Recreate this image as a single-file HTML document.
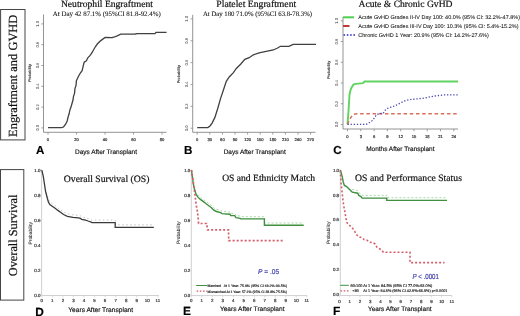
<!DOCTYPE html>
<html><head><meta charset="utf-8"><style>
html,body{margin:0;padding:0;background:#fff;width:520px;height:316px;overflow:hidden}
svg{display:block;will-change:transform}
text{white-space:pre}
</style></head><body>
<svg width="520" height="316" viewBox="0 0 520 316" text-rendering="geometricPrecision">
<rect x="0.6" y="9.5" width="24.4" height="130.4" fill="none" stroke="#444" stroke-width="1"/>
<text x="17.0" y="75.8" font-family="&quot;Liberation Serif&quot;, serif" font-size="12.45" text-anchor="middle" fill="#111" font-weight="normal" font-style="normal" transform="rotate(-90 17.0 75.8)" stroke="#111" stroke-width="0.2">Engraftment and GVHD</text>
<rect x="0.5" y="169.6" width="23.3" height="130.5" fill="none" stroke="#444" stroke-width="1"/>
<text x="16.8" y="235.4" font-family="&quot;Liberation Serif&quot;, serif" font-size="12.3" text-anchor="middle" fill="#111" font-weight="normal" font-style="normal" transform="rotate(-90 16.8 235.4)" stroke="#111" stroke-width="0.2">Overall Survival</text>
<text x="106.9" y="7.3" font-family="&quot;Liberation Serif&quot;, serif" font-size="9.6" text-anchor="middle" fill="#111" font-weight="normal" font-style="normal" stroke="#111" stroke-width="0.2">Neutrophil Engraftment</text>
<text x="106.8" y="16.0" font-family="&quot;Liberation Serif&quot;, serif" font-size="6.9" text-anchor="middle" fill="#111" font-weight="normal" font-style="normal" stroke="#111" stroke-width="0.08">At Day 42 87.1% (95%CI 81.8-92.4%)</text>
<polyline points="43.5,14.5 43.5,132.3 166.5,132.3" fill="none" stroke="#888" stroke-width="0.9"/>
<line x1="41.3" y1="127.9" x2="43.5" y2="127.9" stroke="#888" stroke-width="0.8"/>
<text x="38.8" y="127.9" font-family="&quot;Liberation Sans&quot;, sans-serif" font-size="4.1" text-anchor="middle" fill="#555" font-weight="normal" font-style="normal" transform="rotate(-90 38.8 127.9)" stroke="#555" stroke-width="0.05">0.0</text>
<line x1="41.3" y1="107.10000000000001" x2="43.5" y2="107.10000000000001" stroke="#888" stroke-width="0.8"/>
<text x="38.8" y="107.10000000000001" font-family="&quot;Liberation Sans&quot;, sans-serif" font-size="4.1" text-anchor="middle" fill="#555" font-weight="normal" font-style="normal" transform="rotate(-90 38.8 107.10000000000001)" stroke="#555" stroke-width="0.05">0.2</text>
<line x1="41.3" y1="86.30000000000001" x2="43.5" y2="86.30000000000001" stroke="#888" stroke-width="0.8"/>
<text x="38.8" y="86.30000000000001" font-family="&quot;Liberation Sans&quot;, sans-serif" font-size="4.1" text-anchor="middle" fill="#555" font-weight="normal" font-style="normal" transform="rotate(-90 38.8 86.30000000000001)" stroke="#555" stroke-width="0.05">0.4</text>
<line x1="41.3" y1="65.5" x2="43.5" y2="65.5" stroke="#888" stroke-width="0.8"/>
<text x="38.8" y="65.5" font-family="&quot;Liberation Sans&quot;, sans-serif" font-size="4.1" text-anchor="middle" fill="#555" font-weight="normal" font-style="normal" transform="rotate(-90 38.8 65.5)" stroke="#555" stroke-width="0.05">0.6</text>
<line x1="41.3" y1="44.7" x2="43.5" y2="44.7" stroke="#888" stroke-width="0.8"/>
<text x="38.8" y="44.7" font-family="&quot;Liberation Sans&quot;, sans-serif" font-size="4.1" text-anchor="middle" fill="#555" font-weight="normal" font-style="normal" transform="rotate(-90 38.8 44.7)" stroke="#555" stroke-width="0.05">0.8</text>
<line x1="41.3" y1="23.900000000000006" x2="43.5" y2="23.900000000000006" stroke="#888" stroke-width="0.8"/>
<text x="38.8" y="23.900000000000006" font-family="&quot;Liberation Sans&quot;, sans-serif" font-size="4.1" text-anchor="middle" fill="#555" font-weight="normal" font-style="normal" transform="rotate(-90 38.8 23.900000000000006)" stroke="#555" stroke-width="0.05">1.0</text>
<line x1="48.0" y1="132.3" x2="48.0" y2="134.60000000000002" stroke="#888" stroke-width="0.8"/>
<text x="48.0" y="140.9" font-family="&quot;Liberation Sans&quot;, sans-serif" font-size="4.1" text-anchor="middle" fill="#333" font-weight="normal" font-style="normal" stroke="#333" stroke-width="0.2">0</text>
<line x1="76.5" y1="132.3" x2="76.5" y2="134.60000000000002" stroke="#888" stroke-width="0.8"/>
<text x="76.5" y="140.9" font-family="&quot;Liberation Sans&quot;, sans-serif" font-size="4.1" text-anchor="middle" fill="#333" font-weight="normal" font-style="normal" stroke="#333" stroke-width="0.2">20</text>
<line x1="105.0" y1="132.3" x2="105.0" y2="134.60000000000002" stroke="#888" stroke-width="0.8"/>
<text x="105.0" y="140.9" font-family="&quot;Liberation Sans&quot;, sans-serif" font-size="4.1" text-anchor="middle" fill="#333" font-weight="normal" font-style="normal" stroke="#333" stroke-width="0.2">40</text>
<line x1="133.5" y1="132.3" x2="133.5" y2="134.60000000000002" stroke="#888" stroke-width="0.8"/>
<text x="133.5" y="140.9" font-family="&quot;Liberation Sans&quot;, sans-serif" font-size="4.1" text-anchor="middle" fill="#333" font-weight="normal" font-style="normal" stroke="#333" stroke-width="0.2">60</text>
<line x1="162.0" y1="132.3" x2="162.0" y2="134.60000000000002" stroke="#888" stroke-width="0.8"/>
<text x="162.0" y="140.9" font-family="&quot;Liberation Sans&quot;, sans-serif" font-size="4.1" text-anchor="middle" fill="#333" font-weight="normal" font-style="normal" stroke="#333" stroke-width="0.2">80</text>
<text x="30.599999999999998" y="73" font-family="&quot;Liberation Sans&quot;, sans-serif" font-size="3.9" text-anchor="middle" fill="#333" font-weight="normal" font-style="normal" transform="rotate(-90 30.599999999999998 73)" stroke="#333" stroke-width="0.12">Probability</text>
<polyline points="48.00,127.70 61.40,127.70 63.50,127.00 65.60,124.20 67.10,121.30 68.10,117.00 69.20,113.50 69.90,109.90 71.00,107.10 72.00,103.50 73.00,100.00 73.50,96.40 74.50,93.60 75.00,88.40 76.00,85.60 76.40,80.60 77.10,79.20 78.50,76.30 80.00,73.50 82.10,70.60 82.80,67.80 83.80,63.50 84.20,62.10 86.40,60.70 87.80,57.80 89.90,55.70 91.40,53.60 93.50,50.00 95.50,46.50 97.30,44.00 100.80,40.60 105.10,37.50 112.00,37.60 114.60,36.80 117.20,35.90 120.70,34.20 135.40,34.00 137.10,33.70 155.00,33.60 156.00,32.40 166.60,32.40" fill="none" stroke="#404040" stroke-width="1.3" stroke-linejoin="miter"/>
<text x="35.9" y="153.6" font-family="&quot;Liberation Sans&quot;, sans-serif" font-size="11.6" text-anchor="start" fill="#000" font-weight="bold" font-style="normal" stroke="#000" stroke-width="0.16">A</text>
<text x="75" y="153.8" font-family="&quot;Liberation Sans&quot;, sans-serif" font-size="6.49" text-anchor="start" fill="#111" font-weight="normal" font-style="normal" stroke="#111" stroke-width="0.16">Days After Transplant</text>
<text x="256.25" y="7.1" font-family="&quot;Liberation Serif&quot;, serif" font-size="9.7" text-anchor="middle" fill="#111" font-weight="normal" font-style="normal" stroke="#111" stroke-width="0.2">Platelet Engraftment</text>
<text x="257.5" y="15.8" font-family="&quot;Liberation Serif&quot;, serif" font-size="6.75" text-anchor="middle" fill="#111" font-weight="normal" font-style="normal" stroke="#111" stroke-width="0.08">At Day 180 71.0% (95%CI 63.8-78.3%)</text>
<polyline points="192.7,14.8 192.7,132.3 315.5,132.3" fill="none" stroke="#888" stroke-width="0.9"/>
<line x1="190.5" y1="128.2" x2="192.7" y2="128.2" stroke="#888" stroke-width="0.8"/>
<text x="188.1" y="128.2" font-family="&quot;Liberation Sans&quot;, sans-serif" font-size="4.1" text-anchor="middle" fill="#555" font-weight="normal" font-style="normal" transform="rotate(-90 188.1 128.2)" stroke="#555" stroke-width="0.05">0.0</text>
<line x1="190.5" y1="106.33999999999999" x2="192.7" y2="106.33999999999999" stroke="#888" stroke-width="0.8"/>
<text x="188.1" y="106.33999999999999" font-family="&quot;Liberation Sans&quot;, sans-serif" font-size="4.1" text-anchor="middle" fill="#555" font-weight="normal" font-style="normal" transform="rotate(-90 188.1 106.33999999999999)" stroke="#555" stroke-width="0.05">0.2</text>
<line x1="190.5" y1="84.47999999999999" x2="192.7" y2="84.47999999999999" stroke="#888" stroke-width="0.8"/>
<text x="188.1" y="84.47999999999999" font-family="&quot;Liberation Sans&quot;, sans-serif" font-size="4.1" text-anchor="middle" fill="#555" font-weight="normal" font-style="normal" transform="rotate(-90 188.1 84.47999999999999)" stroke="#555" stroke-width="0.05">0.4</text>
<line x1="190.5" y1="62.61999999999999" x2="192.7" y2="62.61999999999999" stroke="#888" stroke-width="0.8"/>
<text x="188.1" y="62.61999999999999" font-family="&quot;Liberation Sans&quot;, sans-serif" font-size="4.1" text-anchor="middle" fill="#555" font-weight="normal" font-style="normal" transform="rotate(-90 188.1 62.61999999999999)" stroke="#555" stroke-width="0.05">0.6</text>
<line x1="190.5" y1="40.75999999999999" x2="192.7" y2="40.75999999999999" stroke="#888" stroke-width="0.8"/>
<text x="188.1" y="40.75999999999999" font-family="&quot;Liberation Sans&quot;, sans-serif" font-size="4.1" text-anchor="middle" fill="#555" font-weight="normal" font-style="normal" transform="rotate(-90 188.1 40.75999999999999)" stroke="#555" stroke-width="0.05">0.8</text>
<line x1="190.5" y1="18.900000000000006" x2="192.7" y2="18.900000000000006" stroke="#888" stroke-width="0.8"/>
<text x="188.1" y="18.900000000000006" font-family="&quot;Liberation Sans&quot;, sans-serif" font-size="4.1" text-anchor="middle" fill="#555" font-weight="normal" font-style="normal" transform="rotate(-90 188.1 18.900000000000006)" stroke="#555" stroke-width="0.05">1.0</text>
<line x1="197.2" y1="132.3" x2="197.2" y2="134.60000000000002" stroke="#888" stroke-width="0.8"/>
<text x="197.2" y="140.9" font-family="&quot;Liberation Sans&quot;, sans-serif" font-size="4.1" text-anchor="middle" fill="#333" font-weight="normal" font-style="normal" stroke="#333" stroke-width="0.2">0</text>
<line x1="209.79999999999998" y1="132.3" x2="209.79999999999998" y2="134.60000000000002" stroke="#888" stroke-width="0.8"/>
<text x="209.79999999999998" y="140.9" font-family="&quot;Liberation Sans&quot;, sans-serif" font-size="4.1" text-anchor="middle" fill="#333" font-weight="normal" font-style="normal" stroke="#333" stroke-width="0.2">30</text>
<line x1="222.39999999999998" y1="132.3" x2="222.39999999999998" y2="134.60000000000002" stroke="#888" stroke-width="0.8"/>
<text x="222.39999999999998" y="140.9" font-family="&quot;Liberation Sans&quot;, sans-serif" font-size="4.1" text-anchor="middle" fill="#333" font-weight="normal" font-style="normal" stroke="#333" stroke-width="0.2">60</text>
<line x1="235.0" y1="132.3" x2="235.0" y2="134.60000000000002" stroke="#888" stroke-width="0.8"/>
<text x="235.0" y="140.9" font-family="&quot;Liberation Sans&quot;, sans-serif" font-size="4.1" text-anchor="middle" fill="#333" font-weight="normal" font-style="normal" stroke="#333" stroke-width="0.2">90</text>
<line x1="247.6" y1="132.3" x2="247.6" y2="134.60000000000002" stroke="#888" stroke-width="0.8"/>
<text x="247.6" y="140.9" font-family="&quot;Liberation Sans&quot;, sans-serif" font-size="4.1" text-anchor="middle" fill="#333" font-weight="normal" font-style="normal" stroke="#333" stroke-width="0.2">120</text>
<line x1="260.2" y1="132.3" x2="260.2" y2="134.60000000000002" stroke="#888" stroke-width="0.8"/>
<text x="260.2" y="140.9" font-family="&quot;Liberation Sans&quot;, sans-serif" font-size="4.1" text-anchor="middle" fill="#333" font-weight="normal" font-style="normal" stroke="#333" stroke-width="0.2">150</text>
<line x1="272.79999999999995" y1="132.3" x2="272.79999999999995" y2="134.60000000000002" stroke="#888" stroke-width="0.8"/>
<text x="272.79999999999995" y="140.9" font-family="&quot;Liberation Sans&quot;, sans-serif" font-size="4.1" text-anchor="middle" fill="#333" font-weight="normal" font-style="normal" stroke="#333" stroke-width="0.2">180</text>
<line x1="285.4" y1="132.3" x2="285.4" y2="134.60000000000002" stroke="#888" stroke-width="0.8"/>
<text x="285.4" y="140.9" font-family="&quot;Liberation Sans&quot;, sans-serif" font-size="4.1" text-anchor="middle" fill="#333" font-weight="normal" font-style="normal" stroke="#333" stroke-width="0.2">210</text>
<line x1="298.0" y1="132.3" x2="298.0" y2="134.60000000000002" stroke="#888" stroke-width="0.8"/>
<text x="298.0" y="140.9" font-family="&quot;Liberation Sans&quot;, sans-serif" font-size="4.1" text-anchor="middle" fill="#333" font-weight="normal" font-style="normal" stroke="#333" stroke-width="0.2">240</text>
<line x1="310.59999999999997" y1="132.3" x2="310.59999999999997" y2="134.60000000000002" stroke="#888" stroke-width="0.8"/>
<text x="310.59999999999997" y="140.9" font-family="&quot;Liberation Sans&quot;, sans-serif" font-size="4.1" text-anchor="middle" fill="#333" font-weight="normal" font-style="normal" stroke="#333" stroke-width="0.2">270</text>
<text x="179.9" y="74.2" font-family="&quot;Liberation Sans&quot;, sans-serif" font-size="3.9" text-anchor="middle" fill="#333" font-weight="normal" font-style="normal" transform="rotate(-90 179.9 74.2)" stroke="#333" stroke-width="0.12">Probability</text>
<polyline points="197.20,127.60 207.80,127.60 210.00,126.00 212.10,123.10 214.90,117.40 217.80,108.30 220.60,98.40 223.50,89.80 226.30,81.30 229.20,77.00 233.40,72.70 236.30,68.50 240.60,64.20 244.80,59.40 249.10,57.70 253.40,54.80 259.10,52.80 266.20,51.40 273.30,50.00 277.60,48.00 280.40,46.30 289.00,46.30 293.20,44.30 316.00,44.30" fill="none" stroke="#404040" stroke-width="1.3" stroke-linejoin="miter"/>
<text x="184.1" y="153.6" font-family="&quot;Liberation Sans&quot;, sans-serif" font-size="11.6" text-anchor="start" fill="#000" font-weight="bold" font-style="normal" stroke="#000" stroke-width="0.16">B</text>
<text x="223.7" y="153.8" font-family="&quot;Liberation Sans&quot;, sans-serif" font-size="6.49" text-anchor="start" fill="#111" font-weight="normal" font-style="normal" stroke="#111" stroke-width="0.16">Days After Transplant</text>
<text x="405.5" y="7.0" font-family="&quot;Liberation Serif&quot;, serif" font-size="9.6" text-anchor="middle" fill="#111" font-weight="normal" font-style="normal" stroke="#111" stroke-width="0.2">Acute &amp; Chronic GvHD</text>
<polyline points="343,16.9 343,129 458,129" fill="none" stroke="#888" stroke-width="0.9"/>
<line x1="340.8" y1="124.5" x2="343" y2="124.5" stroke="#888" stroke-width="0.8"/>
<text x="337.59999999999997" y="124.5" font-family="&quot;Liberation Sans&quot;, sans-serif" font-size="4.1" text-anchor="middle" fill="#555" font-weight="normal" font-style="normal" transform="rotate(-90 337.59999999999997 124.5)" stroke="#555" stroke-width="0.05">0.0</text>
<line x1="340.8" y1="103.75999999999999" x2="343" y2="103.75999999999999" stroke="#888" stroke-width="0.8"/>
<text x="337.59999999999997" y="103.75999999999999" font-family="&quot;Liberation Sans&quot;, sans-serif" font-size="4.1" text-anchor="middle" fill="#555" font-weight="normal" font-style="normal" transform="rotate(-90 337.59999999999997 103.75999999999999)" stroke="#555" stroke-width="0.05">0.2</text>
<line x1="340.8" y1="83.02" x2="343" y2="83.02" stroke="#888" stroke-width="0.8"/>
<text x="337.59999999999997" y="83.02" font-family="&quot;Liberation Sans&quot;, sans-serif" font-size="4.1" text-anchor="middle" fill="#555" font-weight="normal" font-style="normal" transform="rotate(-90 337.59999999999997 83.02)" stroke="#555" stroke-width="0.05">0.4</text>
<line x1="340.8" y1="62.27999999999999" x2="343" y2="62.27999999999999" stroke="#888" stroke-width="0.8"/>
<text x="337.59999999999997" y="62.27999999999999" font-family="&quot;Liberation Sans&quot;, sans-serif" font-size="4.1" text-anchor="middle" fill="#555" font-weight="normal" font-style="normal" transform="rotate(-90 337.59999999999997 62.27999999999999)" stroke="#555" stroke-width="0.05">0.6</text>
<line x1="340.8" y1="41.53999999999999" x2="343" y2="41.53999999999999" stroke="#888" stroke-width="0.8"/>
<text x="337.59999999999997" y="41.53999999999999" font-family="&quot;Liberation Sans&quot;, sans-serif" font-size="4.1" text-anchor="middle" fill="#555" font-weight="normal" font-style="normal" transform="rotate(-90 337.59999999999997 41.53999999999999)" stroke="#555" stroke-width="0.05">0.8</text>
<line x1="340.8" y1="20.799999999999997" x2="343" y2="20.799999999999997" stroke="#888" stroke-width="0.8"/>
<text x="337.59999999999997" y="20.799999999999997" font-family="&quot;Liberation Sans&quot;, sans-serif" font-size="4.1" text-anchor="middle" fill="#555" font-weight="normal" font-style="normal" transform="rotate(-90 337.59999999999997 20.799999999999997)" stroke="#555" stroke-width="0.05">1.0</text>
<line x1="347.5" y1="129" x2="347.5" y2="131.3" stroke="#888" stroke-width="0.8"/>
<text x="347.5" y="138.2" font-family="&quot;Liberation Sans&quot;, sans-serif" font-size="4.1" text-anchor="middle" fill="#333" font-weight="normal" font-style="normal" stroke="#333" stroke-width="0.2">0</text>
<line x1="360.79" y1="129" x2="360.79" y2="131.3" stroke="#888" stroke-width="0.8"/>
<text x="360.79" y="138.2" font-family="&quot;Liberation Sans&quot;, sans-serif" font-size="4.1" text-anchor="middle" fill="#333" font-weight="normal" font-style="normal" stroke="#333" stroke-width="0.2">3</text>
<line x1="374.08" y1="129" x2="374.08" y2="131.3" stroke="#888" stroke-width="0.8"/>
<text x="374.08" y="138.2" font-family="&quot;Liberation Sans&quot;, sans-serif" font-size="4.1" text-anchor="middle" fill="#333" font-weight="normal" font-style="normal" stroke="#333" stroke-width="0.2">6</text>
<line x1="387.37" y1="129" x2="387.37" y2="131.3" stroke="#888" stroke-width="0.8"/>
<text x="387.37" y="138.2" font-family="&quot;Liberation Sans&quot;, sans-serif" font-size="4.1" text-anchor="middle" fill="#333" font-weight="normal" font-style="normal" stroke="#333" stroke-width="0.2">9</text>
<line x1="400.65999999999997" y1="129" x2="400.65999999999997" y2="131.3" stroke="#888" stroke-width="0.8"/>
<text x="400.65999999999997" y="138.2" font-family="&quot;Liberation Sans&quot;, sans-serif" font-size="4.1" text-anchor="middle" fill="#333" font-weight="normal" font-style="normal" stroke="#333" stroke-width="0.2">12</text>
<line x1="413.95" y1="129" x2="413.95" y2="131.3" stroke="#888" stroke-width="0.8"/>
<text x="413.95" y="138.2" font-family="&quot;Liberation Sans&quot;, sans-serif" font-size="4.1" text-anchor="middle" fill="#333" font-weight="normal" font-style="normal" stroke="#333" stroke-width="0.2">15</text>
<line x1="427.24" y1="129" x2="427.24" y2="131.3" stroke="#888" stroke-width="0.8"/>
<text x="427.24" y="138.2" font-family="&quot;Liberation Sans&quot;, sans-serif" font-size="4.1" text-anchor="middle" fill="#333" font-weight="normal" font-style="normal" stroke="#333" stroke-width="0.2">18</text>
<line x1="440.53" y1="129" x2="440.53" y2="131.3" stroke="#888" stroke-width="0.8"/>
<text x="440.53" y="138.2" font-family="&quot;Liberation Sans&quot;, sans-serif" font-size="4.1" text-anchor="middle" fill="#333" font-weight="normal" font-style="normal" stroke="#333" stroke-width="0.2">21</text>
<line x1="453.82" y1="129" x2="453.82" y2="131.3" stroke="#888" stroke-width="0.8"/>
<text x="453.82" y="138.2" font-family="&quot;Liberation Sans&quot;, sans-serif" font-size="4.1" text-anchor="middle" fill="#333" font-weight="normal" font-style="normal" stroke="#333" stroke-width="0.2">24</text>
<text x="330.2" y="70" font-family="&quot;Liberation Sans&quot;, sans-serif" font-size="3.9" text-anchor="middle" fill="#333" font-weight="normal" font-style="normal" transform="rotate(-90 330.2 70)" stroke="#333" stroke-width="0.12">Probability</text>
<line x1="343" y1="17.3" x2="354" y2="17.3" stroke="#50d050" stroke-width="2"/>
<line x1="343" y1="26" x2="355" y2="26" stroke="#c03838" stroke-width="2" stroke-dasharray="6.5 6"/>
<line x1="343.5" y1="35" x2="355" y2="35" stroke="#2a2ac8" stroke-width="1.6" stroke-dasharray="1.6 1.7"/>
<text x="358.3" y="19.3" font-family="&quot;Liberation Sans&quot;, sans-serif" font-size="5.5" text-anchor="start" fill="#222" font-weight="normal" font-style="normal" stroke="#222" stroke-width="0.08">Acute GvHD Grades II-IV Day 100: 40.0% (95% CI: 32.2%-47.8%)</text>
<text x="358.3" y="27.6" font-family="&quot;Liberation Sans&quot;, sans-serif" font-size="5.5" text-anchor="start" fill="#222" font-weight="normal" font-style="normal" stroke="#222" stroke-width="0.08">Acute GvHD Grades III-IV Day 100: 10.3% (95% CI: 5.4%-15.2%)</text>
<text x="358.3" y="36.8" font-family="&quot;Liberation Sans&quot;, sans-serif" font-size="5.5" text-anchor="start" fill="#222" font-weight="normal" font-style="normal" stroke="#222" stroke-width="0.08">Chronic GvHD 1 Year: 20.9% (95% CI: 14.2%-27.6%)</text>
<polyline points="347.50,124.40 348.50,111.00 349.50,94.70 350.50,90.00 351.60,87.50 353.60,84.40 356.30,83.90 362.90,83.20 364.60,81.50 458.00,81.50" fill="none" stroke="#60d460" stroke-width="1.9" stroke-linejoin="miter"/>
<polyline points="347.50,124.40 349.50,119.50 351.90,115.80 353.50,114.30 356.50,113.80 458.00,113.80" fill="none" stroke="#d8705e" stroke-width="1.5" stroke-linejoin="miter" stroke-dasharray="3.5 2.7"/>
<polyline points="347.50,124.40 366.30,124.40 369.20,122.70 372.70,120.40 375.00,116.90 376.70,114.60 379.60,113.50 383.10,113.50 385.40,110.00 387.70,108.30 391.20,107.10 394.60,106.00 398.10,104.20 402.70,101.90 405.50,100.50 411.50,99.40 423.00,98.30 434.60,96.00 445.00,94.80 457.70,94.80" fill="none" stroke="#4848b0" stroke-width="1.3" stroke-linejoin="miter" stroke-dasharray="1.3 1.8"/>
<text x="333.2" y="153.7" font-family="&quot;Liberation Sans&quot;, sans-serif" font-size="11.6" text-anchor="start" fill="#000" font-weight="bold" font-style="normal" stroke="#000" stroke-width="0.16">C</text>
<text x="366.2" y="151.2" font-family="&quot;Liberation Sans&quot;, sans-serif" font-size="6.47" text-anchor="start" fill="#111" font-weight="normal" font-style="normal" stroke="#111" stroke-width="0.16">Months After Transplant</text>
<text x="106.6" y="181.8" font-family="&quot;Liberation Serif&quot;, serif" font-size="9.7" text-anchor="middle" fill="#111" font-weight="normal" font-style="normal" stroke="#111" stroke-width="0.2">Overall Survival (OS)</text>
<line x1="41.6" y1="169.4" x2="41.6" y2="295.5" stroke="#d0d0d0" stroke-width="1"/>
<line x1="41.6" y1="295.5" x2="159" y2="295.5" stroke="#d0d0d0" stroke-width="1"/>
<line x1="40.1" y1="295.2" x2="41.6" y2="295.2" stroke="#d0d0d0" stroke-width="0.8"/>
<text x="37.4" y="296.75" font-family="&quot;Liberation Sans&quot;, sans-serif" font-size="4.4" text-anchor="middle" fill="#333" font-weight="normal" font-style="normal" stroke="#333" stroke-width="0.2">0.0</text>
<line x1="40.1" y1="270.26" x2="41.6" y2="270.26" stroke="#d0d0d0" stroke-width="0.8"/>
<text x="37.4" y="271.81" font-family="&quot;Liberation Sans&quot;, sans-serif" font-size="4.4" text-anchor="middle" fill="#333" font-weight="normal" font-style="normal" stroke="#333" stroke-width="0.2">0.2</text>
<line x1="40.1" y1="245.32" x2="41.6" y2="245.32" stroke="#d0d0d0" stroke-width="0.8"/>
<text x="37.4" y="246.87" font-family="&quot;Liberation Sans&quot;, sans-serif" font-size="4.4" text-anchor="middle" fill="#333" font-weight="normal" font-style="normal" stroke="#333" stroke-width="0.2">0.4</text>
<line x1="40.1" y1="220.38" x2="41.6" y2="220.38" stroke="#d0d0d0" stroke-width="0.8"/>
<text x="37.4" y="221.93" font-family="&quot;Liberation Sans&quot;, sans-serif" font-size="4.4" text-anchor="middle" fill="#333" font-weight="normal" font-style="normal" stroke="#333" stroke-width="0.2">0.6</text>
<line x1="40.1" y1="195.44" x2="41.6" y2="195.44" stroke="#d0d0d0" stroke-width="0.8"/>
<text x="37.4" y="196.99" font-family="&quot;Liberation Sans&quot;, sans-serif" font-size="4.4" text-anchor="middle" fill="#333" font-weight="normal" font-style="normal" stroke="#333" stroke-width="0.2">0.8</text>
<line x1="40.1" y1="170.5" x2="41.6" y2="170.5" stroke="#d0d0d0" stroke-width="0.8"/>
<text x="37.4" y="172.05" font-family="&quot;Liberation Sans&quot;, sans-serif" font-size="4.4" text-anchor="middle" fill="#333" font-weight="normal" font-style="normal" stroke="#333" stroke-width="0.2">1.0</text>
<line x1="41.8" y1="295.5" x2="41.8" y2="297.3" stroke="#d0d0d0" stroke-width="0.8"/>
<text x="41.8" y="302.40000000000003" font-family="&quot;Liberation Sans&quot;, sans-serif" font-size="4.4" text-anchor="middle" fill="#333" font-weight="normal" font-style="normal" stroke="#333" stroke-width="0.2">0</text>
<line x1="52.349999999999994" y1="295.5" x2="52.349999999999994" y2="297.3" stroke="#d0d0d0" stroke-width="0.8"/>
<text x="52.349999999999994" y="302.40000000000003" font-family="&quot;Liberation Sans&quot;, sans-serif" font-size="4.4" text-anchor="middle" fill="#333" font-weight="normal" font-style="normal" stroke="#333" stroke-width="0.2">1</text>
<line x1="62.9" y1="295.5" x2="62.9" y2="297.3" stroke="#d0d0d0" stroke-width="0.8"/>
<text x="62.9" y="302.40000000000003" font-family="&quot;Liberation Sans&quot;, sans-serif" font-size="4.4" text-anchor="middle" fill="#333" font-weight="normal" font-style="normal" stroke="#333" stroke-width="0.2">2</text>
<line x1="73.45" y1="295.5" x2="73.45" y2="297.3" stroke="#d0d0d0" stroke-width="0.8"/>
<text x="73.45" y="302.40000000000003" font-family="&quot;Liberation Sans&quot;, sans-serif" font-size="4.4" text-anchor="middle" fill="#333" font-weight="normal" font-style="normal" stroke="#333" stroke-width="0.2">3</text>
<line x1="84.0" y1="295.5" x2="84.0" y2="297.3" stroke="#d0d0d0" stroke-width="0.8"/>
<text x="84.0" y="302.40000000000003" font-family="&quot;Liberation Sans&quot;, sans-serif" font-size="4.4" text-anchor="middle" fill="#333" font-weight="normal" font-style="normal" stroke="#333" stroke-width="0.2">4</text>
<line x1="94.55" y1="295.5" x2="94.55" y2="297.3" stroke="#d0d0d0" stroke-width="0.8"/>
<text x="94.55" y="302.40000000000003" font-family="&quot;Liberation Sans&quot;, sans-serif" font-size="4.4" text-anchor="middle" fill="#333" font-weight="normal" font-style="normal" stroke="#333" stroke-width="0.2">5</text>
<line x1="105.1" y1="295.5" x2="105.1" y2="297.3" stroke="#d0d0d0" stroke-width="0.8"/>
<text x="105.1" y="302.40000000000003" font-family="&quot;Liberation Sans&quot;, sans-serif" font-size="4.4" text-anchor="middle" fill="#333" font-weight="normal" font-style="normal" stroke="#333" stroke-width="0.2">6</text>
<line x1="115.65" y1="295.5" x2="115.65" y2="297.3" stroke="#d0d0d0" stroke-width="0.8"/>
<text x="115.65" y="302.40000000000003" font-family="&quot;Liberation Sans&quot;, sans-serif" font-size="4.4" text-anchor="middle" fill="#333" font-weight="normal" font-style="normal" stroke="#333" stroke-width="0.2">7</text>
<line x1="126.2" y1="295.5" x2="126.2" y2="297.3" stroke="#d0d0d0" stroke-width="0.8"/>
<text x="126.2" y="302.40000000000003" font-family="&quot;Liberation Sans&quot;, sans-serif" font-size="4.4" text-anchor="middle" fill="#333" font-weight="normal" font-style="normal" stroke="#333" stroke-width="0.2">8</text>
<line x1="136.75" y1="295.5" x2="136.75" y2="297.3" stroke="#d0d0d0" stroke-width="0.8"/>
<text x="136.75" y="302.40000000000003" font-family="&quot;Liberation Sans&quot;, sans-serif" font-size="4.4" text-anchor="middle" fill="#333" font-weight="normal" font-style="normal" stroke="#333" stroke-width="0.2">9</text>
<line x1="147.3" y1="295.5" x2="147.3" y2="297.3" stroke="#d0d0d0" stroke-width="0.8"/>
<text x="147.3" y="302.40000000000003" font-family="&quot;Liberation Sans&quot;, sans-serif" font-size="4.4" text-anchor="middle" fill="#333" font-weight="normal" font-style="normal" stroke="#333" stroke-width="0.2">10</text>
<line x1="157.85000000000002" y1="295.5" x2="157.85000000000002" y2="297.3" stroke="#d0d0d0" stroke-width="0.8"/>
<text x="157.85000000000002" y="302.40000000000003" font-family="&quot;Liberation Sans&quot;, sans-serif" font-size="4.4" text-anchor="middle" fill="#333" font-weight="normal" font-style="normal" stroke="#333" stroke-width="0.2">11</text>
<text x="32.0" y="233.2" font-family="&quot;Liberation Sans&quot;, sans-serif" font-size="4.8" text-anchor="middle" fill="#333" font-weight="normal" font-style="normal" transform="rotate(-90 32.0 233.2)" stroke="#333" stroke-width="0.08">Probability</text>
<polyline points="46.50,192.50 47.40,196.00 48.40,199.50 49.80,202.00 52.20,203.70 55.10,205.70 57.90,207.90 60.80,210.00 63.60,212.00 67.40,213.80 72.90,214.80 78.40,215.30 80.50,215.90 81.80,217.00 85.60,217.60 88.10,218.50 90.60,219.30 91.90,220.10 115.20,220.10 115.20,224.80 153.80,224.80" fill="none" stroke="#c4c4c4" stroke-width="1" stroke-linejoin="miter" stroke-dasharray="1.5 2.5"/>
<polyline points="41.80,170.20 43.30,176.40 44.60,185.00 45.60,191.60 46.50,195.00 47.40,198.50 48.40,202.00 49.80,204.50 52.20,206.20 55.10,208.20 57.90,210.40 60.80,212.50 63.60,214.50 67.40,216.30 72.90,217.30 78.40,217.80 80.50,218.40 81.80,219.50 85.60,220.10 88.10,221.00 90.60,221.80 91.90,222.60 115.20,222.60 115.20,227.30 153.80,227.30" fill="none" stroke="#3a3a3a" stroke-width="1.3" stroke-linejoin="miter"/>
<text x="35.2" y="315.7" font-family="&quot;Liberation Sans&quot;, sans-serif" font-size="11.9" text-anchor="start" fill="#000" font-weight="bold" font-style="normal" stroke="#000" stroke-width="0.16">D</text>
<text x="68.3" y="311.9" font-family="&quot;Liberation Sans&quot;, sans-serif" font-size="6.62" text-anchor="start" fill="#111" font-weight="normal" font-style="normal" stroke="#111" stroke-width="0.16">Years After Transplant</text>
<text x="268.65" y="180.5" font-family="&quot;Liberation Serif&quot;, serif" font-size="9.6" text-anchor="middle" fill="#111" font-weight="normal" font-style="normal" stroke="#111" stroke-width="0.2">OS and Ethnicity Match</text>
<line x1="191.3" y1="169.5" x2="191.3" y2="295.6" stroke="#d0d0d0" stroke-width="1"/>
<line x1="191.3" y1="295.6" x2="307.2" y2="295.6" stroke="#d0d0d0" stroke-width="1"/>
<line x1="189.8" y1="295.3" x2="191.3" y2="295.3" stroke="#d0d0d0" stroke-width="0.8"/>
<text x="187.2" y="296.85" font-family="&quot;Liberation Sans&quot;, sans-serif" font-size="4.4" text-anchor="middle" fill="#333" font-weight="normal" font-style="normal" stroke="#333" stroke-width="0.2">0.0</text>
<line x1="189.8" y1="270.34000000000003" x2="191.3" y2="270.34000000000003" stroke="#d0d0d0" stroke-width="0.8"/>
<text x="187.2" y="271.89000000000004" font-family="&quot;Liberation Sans&quot;, sans-serif" font-size="4.4" text-anchor="middle" fill="#333" font-weight="normal" font-style="normal" stroke="#333" stroke-width="0.2">0.2</text>
<line x1="189.8" y1="245.38" x2="191.3" y2="245.38" stroke="#d0d0d0" stroke-width="0.8"/>
<text x="187.2" y="246.93" font-family="&quot;Liberation Sans&quot;, sans-serif" font-size="4.4" text-anchor="middle" fill="#333" font-weight="normal" font-style="normal" stroke="#333" stroke-width="0.2">0.4</text>
<line x1="189.8" y1="220.42" x2="191.3" y2="220.42" stroke="#d0d0d0" stroke-width="0.8"/>
<text x="187.2" y="221.97" font-family="&quot;Liberation Sans&quot;, sans-serif" font-size="4.4" text-anchor="middle" fill="#333" font-weight="normal" font-style="normal" stroke="#333" stroke-width="0.2">0.6</text>
<line x1="189.8" y1="195.45999999999998" x2="191.3" y2="195.45999999999998" stroke="#d0d0d0" stroke-width="0.8"/>
<text x="187.2" y="197.01" font-family="&quot;Liberation Sans&quot;, sans-serif" font-size="4.4" text-anchor="middle" fill="#333" font-weight="normal" font-style="normal" stroke="#333" stroke-width="0.2">0.8</text>
<line x1="189.8" y1="170.5" x2="191.3" y2="170.5" stroke="#d0d0d0" stroke-width="0.8"/>
<text x="187.2" y="172.05" font-family="&quot;Liberation Sans&quot;, sans-serif" font-size="4.4" text-anchor="middle" fill="#333" font-weight="normal" font-style="normal" stroke="#333" stroke-width="0.2">1.0</text>
<line x1="191.25" y1="295.6" x2="191.25" y2="297.40000000000003" stroke="#d0d0d0" stroke-width="0.8"/>
<text x="191.25" y="302.35" font-family="&quot;Liberation Sans&quot;, sans-serif" font-size="4.4" text-anchor="middle" fill="#333" font-weight="normal" font-style="normal" stroke="#333" stroke-width="0.2">0</text>
<line x1="201.75" y1="295.6" x2="201.75" y2="297.40000000000003" stroke="#d0d0d0" stroke-width="0.8"/>
<text x="201.75" y="302.35" font-family="&quot;Liberation Sans&quot;, sans-serif" font-size="4.4" text-anchor="middle" fill="#333" font-weight="normal" font-style="normal" stroke="#333" stroke-width="0.2">1</text>
<line x1="212.25" y1="295.6" x2="212.25" y2="297.40000000000003" stroke="#d0d0d0" stroke-width="0.8"/>
<text x="212.25" y="302.35" font-family="&quot;Liberation Sans&quot;, sans-serif" font-size="4.4" text-anchor="middle" fill="#333" font-weight="normal" font-style="normal" stroke="#333" stroke-width="0.2">2</text>
<line x1="222.75" y1="295.6" x2="222.75" y2="297.40000000000003" stroke="#d0d0d0" stroke-width="0.8"/>
<text x="222.75" y="302.35" font-family="&quot;Liberation Sans&quot;, sans-serif" font-size="4.4" text-anchor="middle" fill="#333" font-weight="normal" font-style="normal" stroke="#333" stroke-width="0.2">3</text>
<line x1="233.25" y1="295.6" x2="233.25" y2="297.40000000000003" stroke="#d0d0d0" stroke-width="0.8"/>
<text x="233.25" y="302.35" font-family="&quot;Liberation Sans&quot;, sans-serif" font-size="4.4" text-anchor="middle" fill="#333" font-weight="normal" font-style="normal" stroke="#333" stroke-width="0.2">4</text>
<line x1="243.75" y1="295.6" x2="243.75" y2="297.40000000000003" stroke="#d0d0d0" stroke-width="0.8"/>
<text x="243.75" y="302.35" font-family="&quot;Liberation Sans&quot;, sans-serif" font-size="4.4" text-anchor="middle" fill="#333" font-weight="normal" font-style="normal" stroke="#333" stroke-width="0.2">5</text>
<line x1="254.25" y1="295.6" x2="254.25" y2="297.40000000000003" stroke="#d0d0d0" stroke-width="0.8"/>
<text x="254.25" y="302.35" font-family="&quot;Liberation Sans&quot;, sans-serif" font-size="4.4" text-anchor="middle" fill="#333" font-weight="normal" font-style="normal" stroke="#333" stroke-width="0.2">6</text>
<line x1="264.75" y1="295.6" x2="264.75" y2="297.40000000000003" stroke="#d0d0d0" stroke-width="0.8"/>
<text x="264.75" y="302.35" font-family="&quot;Liberation Sans&quot;, sans-serif" font-size="4.4" text-anchor="middle" fill="#333" font-weight="normal" font-style="normal" stroke="#333" stroke-width="0.2">7</text>
<line x1="275.25" y1="295.6" x2="275.25" y2="297.40000000000003" stroke="#d0d0d0" stroke-width="0.8"/>
<text x="275.25" y="302.35" font-family="&quot;Liberation Sans&quot;, sans-serif" font-size="4.4" text-anchor="middle" fill="#333" font-weight="normal" font-style="normal" stroke="#333" stroke-width="0.2">8</text>
<line x1="285.75" y1="295.6" x2="285.75" y2="297.40000000000003" stroke="#d0d0d0" stroke-width="0.8"/>
<text x="285.75" y="302.35" font-family="&quot;Liberation Sans&quot;, sans-serif" font-size="4.4" text-anchor="middle" fill="#333" font-weight="normal" font-style="normal" stroke="#333" stroke-width="0.2">9</text>
<line x1="296.25" y1="295.6" x2="296.25" y2="297.40000000000003" stroke="#d0d0d0" stroke-width="0.8"/>
<text x="296.25" y="302.35" font-family="&quot;Liberation Sans&quot;, sans-serif" font-size="4.4" text-anchor="middle" fill="#333" font-weight="normal" font-style="normal" stroke="#333" stroke-width="0.2">10</text>
<line x1="306.75" y1="295.6" x2="306.75" y2="297.40000000000003" stroke="#d0d0d0" stroke-width="0.8"/>
<text x="306.75" y="302.35" font-family="&quot;Liberation Sans&quot;, sans-serif" font-size="4.4" text-anchor="middle" fill="#333" font-weight="normal" font-style="normal" stroke="#333" stroke-width="0.2">11</text>
<text x="180.1" y="232.8" font-family="&quot;Liberation Sans&quot;, sans-serif" font-size="4.8" text-anchor="middle" fill="#333" font-weight="normal" font-style="normal" transform="rotate(-90 180.1 232.8)" stroke="#333" stroke-width="0.08">Probability</text>
<polyline points="197.70,194.70 200.40,197.20 203.10,199.20 205.80,201.30 208.50,203.30 211.20,205.30 213.80,208.00 216.50,209.30 220.60,210.40 221.90,211.40 230.00,212.00 230.70,213.40 234.70,213.40 236.00,215.40 240.10,216.10 240.80,216.70 264.40,216.70 264.40,223.00 303.70,223.00" fill="none" stroke="#a8d8a8" stroke-width="1" stroke-linejoin="miter" stroke-dasharray="2 2"/>
<polyline points="191.50,170.00 192.20,175.50 192.80,180.00 193.50,185.00 194.40,188.80 195.40,192.30 196.30,194.50 197.70,196.90 200.40,199.40 203.10,201.40 205.80,203.50 208.50,205.50 211.20,207.50 213.80,210.20 216.50,211.50 220.60,212.60 221.90,213.60 230.00,214.20 230.70,215.60 234.70,215.60 236.00,217.60 240.10,218.30 240.80,218.90 264.40,218.90 264.40,225.20 303.70,225.20" fill="none" stroke="#3f8f3f" stroke-width="1.4" stroke-linejoin="miter"/>
<polyline points="191.50,170.00 193.30,182.20 194.80,193.20 196.10,204.30 197.70,213.20 198.60,223.50 206.60,223.50 207.60,229.90 228.50,229.90 228.70,240.60 283.70,240.60" fill="none" stroke="#d65e6a" stroke-width="1.7" stroke-linejoin="miter" stroke-dasharray="2 2"/>
<text x="258.1" y="274.0" textLength="21.1" lengthAdjust="spacingAndGlyphs" font-family="&quot;Liberation Sans&quot;, sans-serif" font-size="7" fill="#4444aa" stroke="#4444aa" stroke-width="0.18"><tspan font-style="italic">P</tspan> = .05</text>
<line x1="196.2" y1="285.5" x2="207.2" y2="285.5" stroke="#3f8f3f" stroke-width="1"/>
<line x1="196.6" y1="291.1" x2="207.2" y2="291.1" stroke="#d05a66" stroke-width="1.2" stroke-dasharray="1.6 1.6"/>
<text x="207.6" y="287.0" font-family="&quot;Liberation Sans&quot;, sans-serif" font-size="3.5" text-anchor="start" fill="#222" font-weight="normal" font-style="normal" stroke="#222" stroke-width="0.15">Matched</text>
<text x="223.7" y="287.0" font-family="&quot;Liberation Sans&quot;, sans-serif" font-size="3.54" text-anchor="start" fill="#222" font-weight="normal" font-style="normal" stroke="#222" stroke-width="0.15">At 1 Year: 75.8% (95% CI 68.2%-83.5%)</text>
<text x="207.6" y="292.5" font-family="&quot;Liberation Sans&quot;, sans-serif" font-size="3.36" text-anchor="start" fill="#222" font-weight="normal" font-style="normal" stroke="#222" stroke-width="0.15">Mismatched At 1 Year: 57.1% (95% CI 38.8%-75.5%)</text>
<text x="183.0" y="315.3" font-family="&quot;Liberation Sans&quot;, sans-serif" font-size="11.9" text-anchor="start" fill="#000" font-weight="bold" font-style="normal" stroke="#000" stroke-width="0.16">E</text>
<text x="219.9" y="311.3" font-family="&quot;Liberation Sans&quot;, sans-serif" font-size="6.6" text-anchor="start" fill="#111" font-weight="normal" font-style="normal" stroke="#111" stroke-width="0.16">Years After Transplant</text>
<text x="408.5" y="180.7" font-family="&quot;Liberation Serif&quot;, serif" font-size="9.7" text-anchor="middle" fill="#111" font-weight="normal" font-style="normal" stroke="#111" stroke-width="0.2">OS and Performance Status</text>
<line x1="340.3" y1="169.5" x2="340.3" y2="295.5" stroke="#d0d0d0" stroke-width="1"/>
<line x1="340.3" y1="295.5" x2="452" y2="295.5" stroke="#d0d0d0" stroke-width="1"/>
<line x1="338.8" y1="294.8" x2="340.3" y2="294.8" stroke="#d0d0d0" stroke-width="0.8"/>
<text x="336.0" y="296.35" font-family="&quot;Liberation Sans&quot;, sans-serif" font-size="4.4" text-anchor="middle" fill="#333" font-weight="normal" font-style="normal" stroke="#333" stroke-width="0.2">0.0</text>
<line x1="338.8" y1="269.84000000000003" x2="340.3" y2="269.84000000000003" stroke="#d0d0d0" stroke-width="0.8"/>
<text x="336.0" y="271.39000000000004" font-family="&quot;Liberation Sans&quot;, sans-serif" font-size="4.4" text-anchor="middle" fill="#333" font-weight="normal" font-style="normal" stroke="#333" stroke-width="0.2">0.2</text>
<line x1="338.8" y1="244.88" x2="340.3" y2="244.88" stroke="#d0d0d0" stroke-width="0.8"/>
<text x="336.0" y="246.43" font-family="&quot;Liberation Sans&quot;, sans-serif" font-size="4.4" text-anchor="middle" fill="#333" font-weight="normal" font-style="normal" stroke="#333" stroke-width="0.2">0.4</text>
<line x1="338.8" y1="219.92" x2="340.3" y2="219.92" stroke="#d0d0d0" stroke-width="0.8"/>
<text x="336.0" y="221.47" font-family="&quot;Liberation Sans&quot;, sans-serif" font-size="4.4" text-anchor="middle" fill="#333" font-weight="normal" font-style="normal" stroke="#333" stroke-width="0.2">0.6</text>
<line x1="338.8" y1="194.95999999999998" x2="340.3" y2="194.95999999999998" stroke="#d0d0d0" stroke-width="0.8"/>
<text x="336.0" y="196.51" font-family="&quot;Liberation Sans&quot;, sans-serif" font-size="4.4" text-anchor="middle" fill="#333" font-weight="normal" font-style="normal" stroke="#333" stroke-width="0.2">0.8</text>
<line x1="338.8" y1="170.0" x2="340.3" y2="170.0" stroke="#d0d0d0" stroke-width="0.8"/>
<text x="336.0" y="171.55" font-family="&quot;Liberation Sans&quot;, sans-serif" font-size="4.4" text-anchor="middle" fill="#333" font-weight="normal" font-style="normal" stroke="#333" stroke-width="0.2">1.0</text>
<line x1="339.6" y1="295.5" x2="339.6" y2="297.3" stroke="#d0d0d0" stroke-width="0.8"/>
<text x="339.6" y="302.5" font-family="&quot;Liberation Sans&quot;, sans-serif" font-size="4.4" text-anchor="middle" fill="#333" font-weight="normal" font-style="normal" stroke="#333" stroke-width="0.2">0</text>
<line x1="349.8" y1="295.5" x2="349.8" y2="297.3" stroke="#d0d0d0" stroke-width="0.8"/>
<text x="349.8" y="302.5" font-family="&quot;Liberation Sans&quot;, sans-serif" font-size="4.4" text-anchor="middle" fill="#333" font-weight="normal" font-style="normal" stroke="#333" stroke-width="0.2">1</text>
<line x1="360.0" y1="295.5" x2="360.0" y2="297.3" stroke="#d0d0d0" stroke-width="0.8"/>
<text x="360.0" y="302.5" font-family="&quot;Liberation Sans&quot;, sans-serif" font-size="4.4" text-anchor="middle" fill="#333" font-weight="normal" font-style="normal" stroke="#333" stroke-width="0.2">2</text>
<line x1="370.20000000000005" y1="295.5" x2="370.20000000000005" y2="297.3" stroke="#d0d0d0" stroke-width="0.8"/>
<text x="370.20000000000005" y="302.5" font-family="&quot;Liberation Sans&quot;, sans-serif" font-size="4.4" text-anchor="middle" fill="#333" font-weight="normal" font-style="normal" stroke="#333" stroke-width="0.2">3</text>
<line x1="380.40000000000003" y1="295.5" x2="380.40000000000003" y2="297.3" stroke="#d0d0d0" stroke-width="0.8"/>
<text x="380.40000000000003" y="302.5" font-family="&quot;Liberation Sans&quot;, sans-serif" font-size="4.4" text-anchor="middle" fill="#333" font-weight="normal" font-style="normal" stroke="#333" stroke-width="0.2">4</text>
<line x1="390.6" y1="295.5" x2="390.6" y2="297.3" stroke="#d0d0d0" stroke-width="0.8"/>
<text x="390.6" y="302.5" font-family="&quot;Liberation Sans&quot;, sans-serif" font-size="4.4" text-anchor="middle" fill="#333" font-weight="normal" font-style="normal" stroke="#333" stroke-width="0.2">5</text>
<line x1="400.8" y1="295.5" x2="400.8" y2="297.3" stroke="#d0d0d0" stroke-width="0.8"/>
<text x="400.8" y="302.5" font-family="&quot;Liberation Sans&quot;, sans-serif" font-size="4.4" text-anchor="middle" fill="#333" font-weight="normal" font-style="normal" stroke="#333" stroke-width="0.2">6</text>
<line x1="411.0" y1="295.5" x2="411.0" y2="297.3" stroke="#d0d0d0" stroke-width="0.8"/>
<text x="411.0" y="302.5" font-family="&quot;Liberation Sans&quot;, sans-serif" font-size="4.4" text-anchor="middle" fill="#333" font-weight="normal" font-style="normal" stroke="#333" stroke-width="0.2">7</text>
<line x1="421.20000000000005" y1="295.5" x2="421.20000000000005" y2="297.3" stroke="#d0d0d0" stroke-width="0.8"/>
<text x="421.20000000000005" y="302.5" font-family="&quot;Liberation Sans&quot;, sans-serif" font-size="4.4" text-anchor="middle" fill="#333" font-weight="normal" font-style="normal" stroke="#333" stroke-width="0.2">8</text>
<line x1="431.40000000000003" y1="295.5" x2="431.40000000000003" y2="297.3" stroke="#d0d0d0" stroke-width="0.8"/>
<text x="431.40000000000003" y="302.5" font-family="&quot;Liberation Sans&quot;, sans-serif" font-size="4.4" text-anchor="middle" fill="#333" font-weight="normal" font-style="normal" stroke="#333" stroke-width="0.2">9</text>
<line x1="441.6" y1="295.5" x2="441.6" y2="297.3" stroke="#d0d0d0" stroke-width="0.8"/>
<text x="441.6" y="302.5" font-family="&quot;Liberation Sans&quot;, sans-serif" font-size="4.4" text-anchor="middle" fill="#333" font-weight="normal" font-style="normal" stroke="#333" stroke-width="0.2">10</text>
<line x1="451.8" y1="295.5" x2="451.8" y2="297.3" stroke="#d0d0d0" stroke-width="0.8"/>
<text x="451.8" y="302.5" font-family="&quot;Liberation Sans&quot;, sans-serif" font-size="4.4" text-anchor="middle" fill="#333" font-weight="normal" font-style="normal" stroke="#333" stroke-width="0.2">11</text>
<text x="329.90000000000003" y="232.9" font-family="&quot;Liberation Sans&quot;, sans-serif" font-size="4.8" text-anchor="middle" fill="#333" font-weight="normal" font-style="normal" transform="rotate(-90 329.90000000000003 232.9)" stroke="#333" stroke-width="0.08">Probability</text>
<polyline points="352.20,189.40 357.70,190.50 358.80,192.70 361.00,193.90 362.10,195.40 386.80,195.40 386.80,197.70 447.00,197.70" fill="none" stroke="#a8d8a8" stroke-width="1" stroke-linejoin="miter" stroke-dasharray="2 2"/>
<polyline points="340.40,170.00 342.20,176.60 343.30,182.20 344.40,185.50 346.60,186.60 348.80,188.80 352.20,192.10 357.70,193.20 358.80,195.40 361.00,196.60 362.10,198.10 386.80,198.10 386.80,200.40 447.00,200.40" fill="none" stroke="#3f8f3f" stroke-width="1.4" stroke-linejoin="miter"/>
<polyline points="340.20,170.50 341.20,184.00 342.00,191.60 342.70,197.90 343.50,204.20 344.60,210.60 345.90,217.70 346.70,222.40 348.30,224.00 350.70,226.40 353.00,228.80 354.60,231.10 356.20,234.30 358.60,236.70 362.40,237.90 364.30,239.80 367.10,240.20 369.00,242.10 372.90,242.60 375.20,244.00 376.70,246.90 378.60,248.30 381.90,250.20 383.30,252.20 410.00,252.20 410.00,262.60 444.50,262.60" fill="none" stroke="#d65e6a" stroke-width="1.6" stroke-linejoin="miter" stroke-dasharray="2 2"/>
<text x="412.4" y="278.6" textLength="26.5" lengthAdjust="spacingAndGlyphs" font-family="&quot;Liberation Sans&quot;, sans-serif" font-size="7.3" fill="#4444aa" stroke="#4444aa" stroke-width="0.2"><tspan font-style="italic">P</tspan> &lt; .0001</text>
<line x1="340.2" y1="285.3" x2="348.8" y2="285.3" stroke="#3f8f3f" stroke-width="1"/>
<line x1="340.5" y1="290.8" x2="350.2" y2="290.8" stroke="#d05a66" stroke-width="1.2" stroke-dasharray="1.6 1.6"/>
<text x="350.5" y="286.8" font-family="&quot;Liberation Sans&quot;, sans-serif" font-size="3.85" text-anchor="start" fill="#222" font-weight="normal" font-style="normal" stroke="#222" stroke-width="0.15">80-100 At 1 Year: 84.5% (95% CI 77.0%-92.0%)</text>
<text x="352.5" y="292.3" font-family="&quot;Liberation Sans&quot;, sans-serif" font-size="3.75" text-anchor="start" fill="#222" font-weight="normal" font-style="normal" stroke="#222" stroke-width="0.15">&lt;80</text>
<text x="363.3" y="292.3" font-family="&quot;Liberation Sans&quot;, sans-serif" font-size="3.75" text-anchor="start" fill="#222" font-weight="normal" font-style="normal" stroke="#222" stroke-width="0.15">At 1 Year: 54.5% (95% CI 42.5%-66.5%) p&lt;0.0001</text>
<text x="333.0" y="314.9" font-family="&quot;Liberation Sans&quot;, sans-serif" font-size="12.0" text-anchor="start" fill="#000" font-weight="bold" font-style="normal" stroke="#000" stroke-width="0.16">F</text>
<text x="368" y="311.0" font-family="&quot;Liberation Sans&quot;, sans-serif" font-size="6.49" text-anchor="start" fill="#111" font-weight="normal" font-style="normal" stroke="#111" stroke-width="0.16">Years After Transplant</text>
</svg>
</body></html>
